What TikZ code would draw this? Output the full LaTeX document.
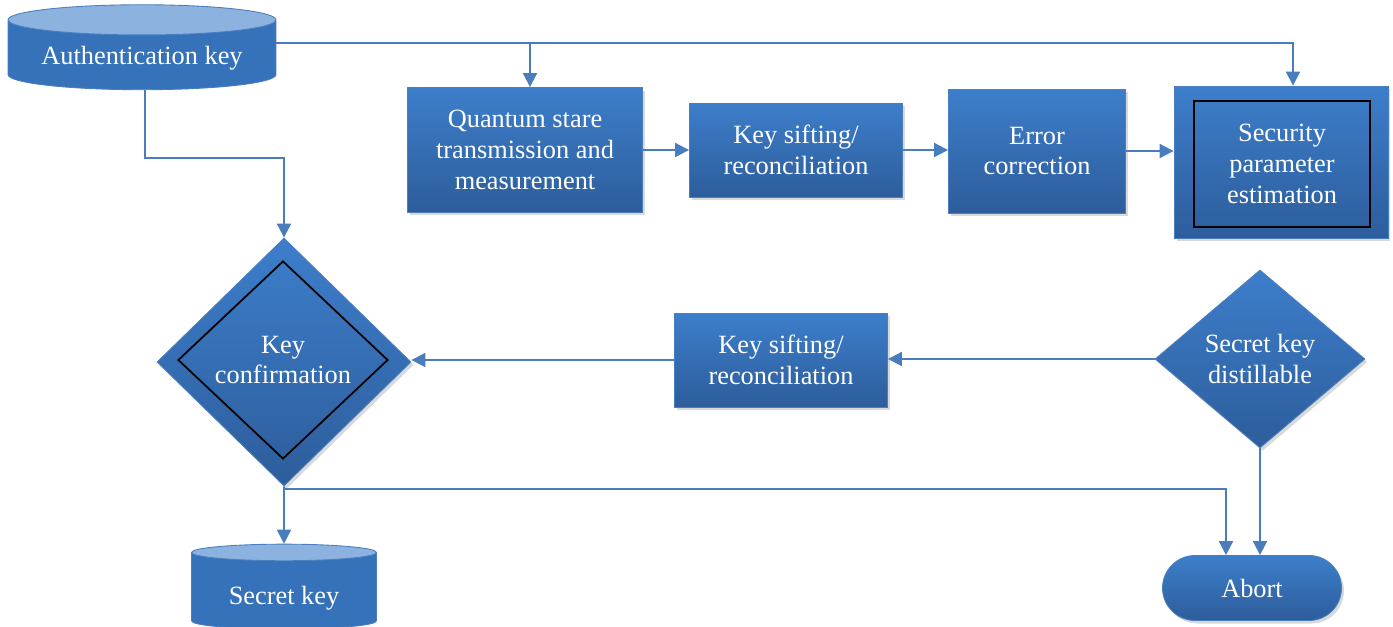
\documentclass[tikz,border=0pt]{standalone}
\usepackage{fontspec}
\setmainfont{Liberation Serif}
\usetikzlibrary{shapes.geometric,shapes.misc,arrows.meta,calc,shadows}

\definecolor{boxtop}{HTML}{3D7ECB}
\definecolor{boxbot}{HTML}{2D5D9B}
\definecolor{boxmid}{HTML}{3672BA}
\definecolor{boxedge}{HTML}{4A7EBE}
\definecolor{captop}{HTML}{8CB2E0}
\definecolor{linkblue}{HTML}{4A7DBE}

\tikzset{
  blocktext/.style={draw=boxedge, line width=0.5pt, text=white, align=center, inner sep=0pt,
    font=\fontsize{15}{17.6}\selectfont},
  blockbase/.style={blocktext,
    drop shadow={shadow xshift=0.05cm, shadow yshift=-0.06cm, opacity=0.3}},
  shadedblue/.style={top color=boxtop, bottom color=boxbot},
  procbox/.style={blockbase, shadedblue, rectangle},
  decbox/.style={blockbase, shadedblue, diamond},
  storebox/.style={blocktext, cylinder, shape border rotate=90, aspect=0.15,
    cylinder uses custom fill, cylinder body fill=boxmid, cylinder end fill=captop},
  endbox/.style={blockbase, shadedblue, rounded rectangle},
  innerframe/.style={draw=black, line width=1pt, fill=none, inner sep=0pt, text=white,
    align=center, font=\fontsize{15}{17.6}\selectfont},
  link/.style={draw=linkblue, line width=1.1pt, -{Triangle[length=0.28cm, width=0.28cm]}}
}

\newcommand{\captext}[2][0.14cm]{\raisebox{-#1}[\height][\depth]{#2}}

\begin{document}
\begin{tikzpicture}[x=0.02cm, y=-0.02cm]
  \useasboundingbox (0,0) rectangle (1393,626);

  % top row
  \node[storebox, minimum width=5.36cm, minimum height=1.7cm] (auth) at (142,55) {\captext[0.06cm]{Authentication key}};
  \node[procbox, minimum width=4.7cm, minimum height=2.5cm] (qst) at (525,150) {Quantum stare\\transmission and\\measurement};
  \node[procbox, minimum width=4.26cm, minimum height=1.88cm] (sift1) at (796,150) {Key sifting/\\reconciliation};
  \node[procbox, minimum width=3.54cm, minimum height=2.48cm] (errc) at (1037,151) {Error\\correction};
  \node[procbox, minimum width=4.28cm, minimum height=3.04cm] (secp) at (1281,162) {};
  \node[innerframe, minimum width=3.52cm, minimum height=2.52cm] (secpin) at (1282,164) {Security\\parameter\\estimation};

  % middle row
  \node[decbox, minimum width=5.08cm, minimum height=4.96cm] (keyconf) at (284,362) {};
  \node[innerframe, diamond, minimum width=4.2cm, minimum height=3.96cm] (keyconfin) at (283,360) {Key\\confirmation};
  \node[procbox, minimum width=4.26cm, minimum height=1.88cm] (sift2) at (781,360) {Key sifting/\\reconciliation};
  \node[decbox, minimum width=4.2cm, minimum height=3.56cm] (skd) at (1260,359) {Secret key\\distillable};

  % bottom row
  \node[storebox, minimum width=3.7cm, minimum height=1.7cm] (seckey) at (284,591) {\captext{Secret key}};
  \node[endbox, minimum width=3.58cm, minimum height=1.3cm] (abort) at (1252,588) {Abort};

  % connectors
  \draw[link] ($(auth.east)+(0,-12)$) -| ($(secp.north)+(12,0)$);
  \draw[link] ($(auth.east -| qst.north)+(5,-12)$) -- ($(qst.north)+(5,0)$);
  \draw[link] ($(auth.south)+(3,0)$) |- ($(keyconf.north)+(0,-80)$) -- (keyconf.north);
  \draw[link] (qst.east) -- (qst.east -| sift1.west);
  \draw[link] (sift1.east) -- (sift1.east -| errc.west);
  \draw[link] (errc.east) -- (errc.east -| secp.west);
  \draw[link] (skd.west) -- (skd.west -| sift2.east);
  \draw[link] (sift2.west) -- (sift2.west -| keyconf.east);
  \draw[link] (keyconf.south) -- (seckey.north);
  \draw[link] ($(keyconf.south)+(0,3)$) -| ($(abort.north)+(-26,0)$);
  \draw[link] (skd.south) -- (skd.south |- abort.north);
\end{tikzpicture}
\end{document}
